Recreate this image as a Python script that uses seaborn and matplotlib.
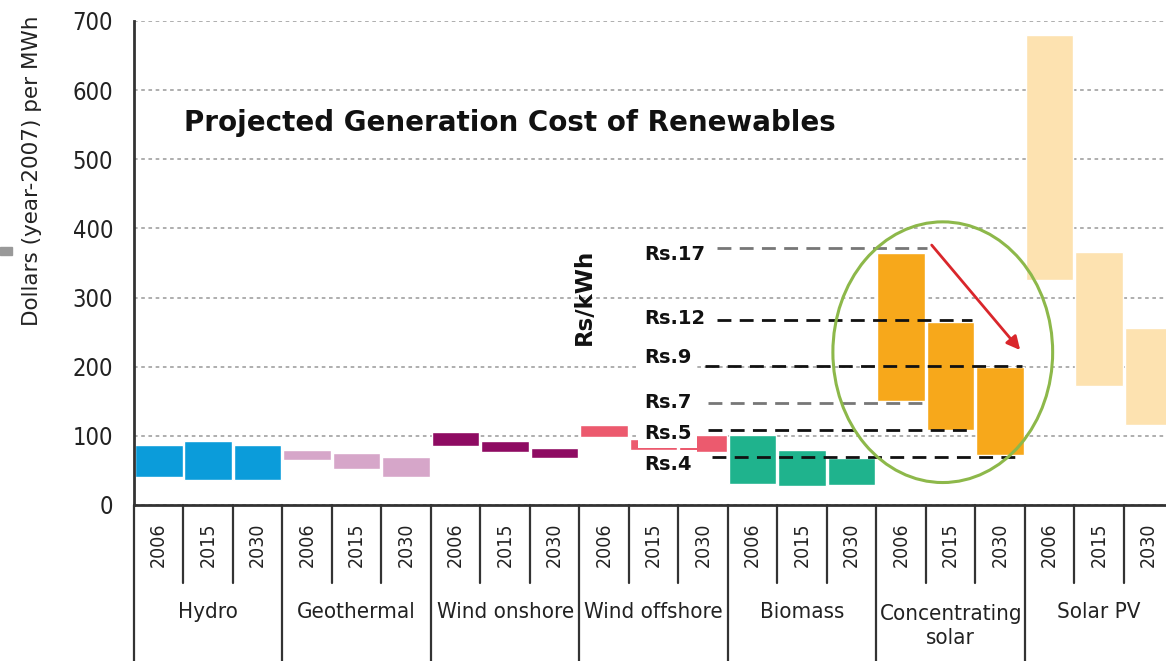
import numpy as np
import matplotlib
matplotlib.use("Agg")
import matplotlib.pyplot as plt
import matplotlib.font_manager as fm
from matplotlib.patches import Ellipse, Rectangle
import seaborn as sns

# data (US$ per MWh, low/high of each range)
techs = ['Hydro', 'Geothermal', 'Wind onshore', 'Wind offshore', 'Biomass',
         'Concentrating\nsolar', 'Solar PV']
years = ['2006', '2015', '2030']
cost_low = [40, 36, 36, 65, 52, 40, 85, 76, 68, 98, 80, 76,
            31, 27, 29, 150, 108, 72, 325, 172, 116]
cost_high = [87, 92, 87, 80, 75, 70, 105, 92, 83, 116, 96, 101,
             101, 79, 68, 364, 265, 200, 680, 366, 256]
tech_colors = ['#0B9CDA', '#D6A6C9', '#8E0B62', '#EC5A6E', '#1FB38D', '#F7A81B', '#FDE2B0']

# rupee annotations
rs_labels = ['Rs.17', 'Rs.12', 'Rs.9', 'Rs.7', 'Rs.5', 'Rs.4']
rs_levels = [372, 268, 201, 147, 108, 70]
rs_text_levels = [362, 270, 213, 148, 104, 58]
rs_line_start = [11.28, 11.28, 11.04, 11.1, 11.1, 11.18]
rs_line_end = [15.52, 16.43, 17.44, 15.42, 16.35, 17.4]
rs_line_colors = ['#777777', '#111111', '#111111', '#777777', '#111111', '#111111']

sns.set_theme(style='white')


def find_narrow():
    # look for any condensed / narrow regular face that is installed
    for f in fm.fontManager.ttflist:
        nm = f.name.lower()
        cond = ('narrow' in nm or 'condensed' in nm or
                str(f.stretch) in ('condensed', 'semi-condensed', '75', '87'))
        if cond and f.style == 'normal' and f.weight in (400, 'normal', 'regular'):
            return f.fname
    return None


narrow_file = find_narrow()


def nfont(size):
    if narrow_file:
        return fm.FontProperties(fname=narrow_file, size=size)
    return fm.FontProperties(family='DejaVu Sans', size=size * 0.78)


fig = plt.figure(figsize=(11.66, 6.61), dpi=100)
ax = fig.add_axes([134 / 1166, 156 / 661, 1 - 134 / 1166, 484 / 661])

n = len(techs) * len(years)
x = np.arange(n)
colors = [tech_colors[i // 3] for i in range(n)]
heights = np.array(cost_high) - np.array(cost_low)
ax.bar(x, heights, bottom=cost_low, width=0.96, color=colors, zorder=2)

ax.set_xlim(-0.5, 20.35)
ax.set_ylim(0, 700)
ax.set_yticks(range(0, 701, 100))
ax.set_xticks([])
ax.set_axisbelow(True)
ax.yaxis.grid(True, linestyle=(0, (2, 2)), color='#a8a8a8', lw=1.3)
ax.tick_params(axis='y', direction='out', length=8, width=1.5, color='#444444', pad=7)
for lab in ax.get_yticklabels():
    lab.set_fontproperties(nfont(17))
    lab.set_color('#222222')
sns.despine(ax=ax, top=True, right=True)
for side in ['left', 'bottom']:
    ax.spines[side].set_color('#333333')
    ax.spines[side].set_linewidth(2)

# category table under the axis
trans = ax.get_xaxis_transform()
for i in range(n + 1):
    bottom = -0.33 if i % 3 == 0 else -0.161
    ax.plot([i - 0.5, i - 0.5], [0, bottom], transform=trans, color='#333333',
            lw=1.6, clip_on=False)
for i in range(n):
    ax.text(i, -0.083, years[i % 3], transform=trans, rotation=90, ha='center',
            va='center', fontproperties=nfont(14), color='#222222')
for g, name in enumerate(techs):
    yy = -0.25 if '\n' in name else -0.221
    ax.text(g * 3 + 1, yy, name, transform=trans, ha='center', va='center',
            fontproperties=nfont(16), color='#222222', linespacing=1.2)

# title and axis label
ax.text(0.048, 0.79, 'Projected Generation Cost of Renewables', transform=ax.transAxes,
        fontsize=20, fontweight='bold', color='#111111', va='center')
fig.text(32 / 1166, 1 - 171 / 661, 'Dollars (year-2007) per MWh', rotation=90,
         ha='center', va='center', fontsize=15.5, color='#222222')
fig.add_artist(Rectangle((0, 1 - 255 / 661), 12 / 1166, 8 / 661, color='#999999',
                         transform=fig.transFigure))

# rupee reference lines
for lab, lvl, tl, x0, x1, c in zip(rs_labels, rs_levels, rs_text_levels,
                                   rs_line_start, rs_line_end, rs_line_colors):
    ax.plot([x0, x1], [lvl, lvl], color=c, lw=2, linestyle=(0, (5, 3)), zorder=4)
    ax.text(9.8, tl, lab, fontsize=14, fontweight='bold', color='#111111',
            ha='left', va='center', zorder=5,
            bbox=dict(facecolor='white', edgecolor='none', pad=4))
ax.text(8.59, 301, 'Rs/kWh', rotation=90, fontsize=16.5, fontweight='bold',
        color='#111111', ha='center', va='center')

ax.add_patch(Ellipse((15.84, 221), 4.44, 377, fill=False, edgecolor='#8DB84A',
                     lw=2.2, zorder=6))
ax.annotate('', xy=(17.44, 221), xytext=(15.58, 379),
            arrowprops=dict(arrowstyle='-|>', color='#D9262B', lw=2,
                            mutation_scale=20), zorder=7)

fig.savefig('out.png', dpi=100)
